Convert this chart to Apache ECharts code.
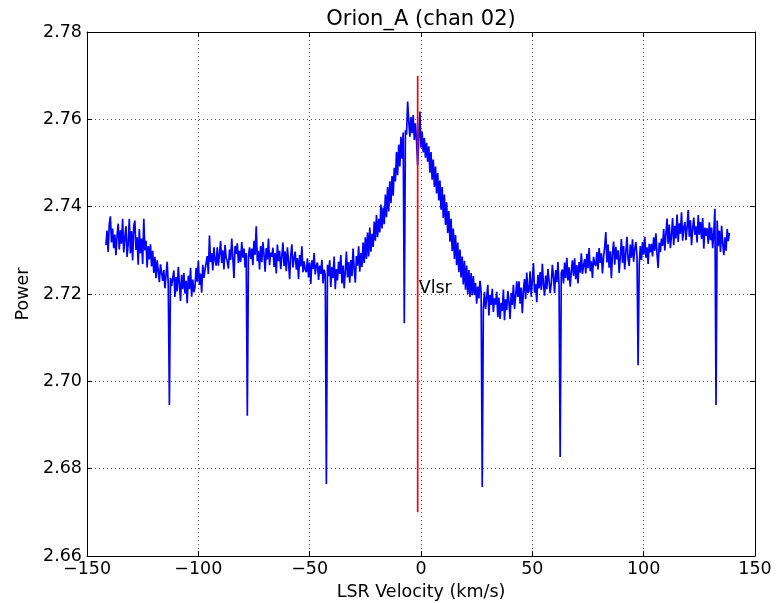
<!DOCTYPE html>
<html><head><meta charset="utf-8">
<script src="https://cdn.jsdelivr.net/npm/echarts@6/dist/echarts.min.js"></script>
<style>html,body{margin:0;padding:0;background:#fff}#c{width:777px;height:603px}</style>
</head><body><div id="c"></div>
<script>
const titleText = 'Orion_A (chan 02)';
const xName = 'LSR Velocity (km/s)';
const yName = 'Power';
const xRange = [-150, 150], xStep = 50;
const yRange = [2.66, 2.78], yStep = 0.02;
// channel velocities: first channel and spacing (km/s)
const vStart = -141.5, vStep = 0.5;
const power = [
2.7312,2.7345,2.7296,2.7359,2.7378,2.7318,2.7350,2.7305,2.7336,2.7289,
2.7333,2.7361,2.7302,2.7346,2.7315,2.7372,2.7295,2.7329,2.7355,2.7285,
2.7315,2.7372,2.7293,2.7344,2.7277,2.7356,2.7368,2.7301,2.7330,2.7267,
2.7349,2.7293,2.7327,2.7269,2.7372,2.7300,2.7322,2.7261,2.7310,2.7279,
2.7314,2.7263,2.7299,2.7248,2.7285,2.7236,2.7277,2.7253,2.7227,2.7268,
2.7267,2.7230,2.7255,2.7213,2.7243,2.7274,2.7221,2.6946,2.7237,2.7218,
2.7215,2.7254,2.7193,2.7239,2.7206,2.7262,2.7225,2.7184,2.7244,2.7211,
2.7248,2.7201,2.7230,2.7179,2.7242,2.7211,2.7260,2.7194,2.7233,2.7204,
2.7216,2.7260,2.7228,2.7276,2.7221,2.7247,2.7203,2.7267,2.7237,2.7255,
2.7258,2.7287,2.7246,2.7334,2.7273,2.7294,2.7254,2.7307,2.7278,2.7265,
2.7307,2.7265,2.7292,2.7321,2.7271,2.7300,2.7256,2.7312,2.7283,2.7275,
2.7258,2.7302,2.7278,2.7327,2.7283,2.7236,2.7310,2.7292,2.7316,2.7271,
2.7299,2.7273,2.7319,2.7283,2.7304,2.7261,2.7294,2.6921,2.7285,2.7307,
2.7280,2.7304,2.7266,2.7322,2.7290,2.7355,2.7275,2.7299,2.7256,2.7310,
2.7273,2.7319,2.7290,2.7251,2.7305,2.7279,2.7327,2.7266,2.7295,2.7285,
2.7306,2.7262,2.7294,2.7247,2.7313,2.7275,2.7299,2.7257,2.7286,2.7318,
2.7264,2.7297,2.7252,2.7307,2.7275,2.7234,2.7288,2.7314,2.7261,2.7283,
2.7297,2.7256,2.7282,2.7234,2.7289,2.7263,2.7309,2.7250,2.7275,2.7255,
2.7250,2.7282,2.7238,2.7272,2.7223,2.7277,2.7257,2.7294,2.7245,2.7265,
2.7272,2.7232,2.7265,2.7246,2.7278,2.7224,2.7256,2.7243,2.6765,2.7267,
2.7241,2.7277,2.7216,2.7262,2.7236,2.7286,2.7211,2.7257,2.7231,2.7274,
2.7246,2.7289,2.7224,2.7265,2.7213,2.7253,2.7297,2.7238,2.7273,2.7226,
2.7278,2.7241,2.7304,2.7256,2.7226,2.7287,2.7265,2.7309,2.7251,2.7294,
2.7262,2.7318,2.7271,2.7330,2.7280,2.7341,2.7286,2.7352,2.7297,2.7338,
2.7308,2.7366,2.7322,2.7381,2.7330,2.7372,2.7341,2.7405,2.7350,2.7398,
2.7360,2.7428,2.7376,2.7445,2.7389,2.7458,2.7408,2.7470,2.7425,2.7489,
2.7458,2.7525,2.7472,2.7542,2.7492,2.7560,2.7510,2.7570,2.7133,2.7575,
2.7565,2.7641,2.7596,2.7560,2.7605,2.7568,2.7610,2.7553,2.7591,2.7550,
2.7495,2.7556,2.7618,2.7535,2.7572,2.7524,2.7557,2.7512,2.7546,2.7503,
2.7538,2.7478,2.7525,2.7462,2.7508,2.7445,2.7492,2.7430,2.7477,2.7414,
2.7460,2.7393,2.7445,2.7374,2.7428,2.7358,2.7410,2.7340,2.7390,2.7320,
2.7372,2.7298,2.7350,2.7280,2.7335,2.7266,2.7318,2.7250,2.7302,2.7238,
2.7286,2.7222,2.7276,2.7210,2.7265,2.7200,2.7255,2.7193,2.7248,2.7197,
2.7241,2.7198,2.7225,2.7178,2.7217,2.7190,2.7230,2.7205,2.6758,2.7168,
2.7205,2.7166,2.7192,2.7221,2.7151,2.7198,2.7175,2.7212,2.7159,2.7190,
2.7176,2.7205,2.7147,2.7192,2.7143,2.7180,2.7161,2.7210,2.7140,2.7188,
2.7163,2.7207,2.7182,2.7143,2.7202,2.7175,2.7221,2.7166,2.7195,2.7229,
2.7193,2.7229,2.7178,2.7215,2.7156,2.7208,2.7234,2.7188,2.7249,2.7202,
2.7208,2.7252,2.7194,2.7232,2.7271,2.7203,2.7223,2.7181,2.7244,2.7213,
2.7250,2.7209,2.7269,2.7221,2.7196,2.7242,2.7211,2.7257,2.7231,2.7202,
2.7224,2.7267,2.7239,2.7202,2.7255,2.7227,2.7273,2.7219,2.6827,2.7248,
2.7256,2.7224,2.7272,2.7236,2.7283,2.7231,2.7261,2.7217,2.7251,2.7277,
2.7242,2.7282,2.7234,2.7266,2.7224,2.7273,2.7249,2.7293,2.7246,2.7265,
2.7280,2.7247,2.7292,2.7259,2.7305,2.7252,2.7275,2.7237,2.7285,2.7269,
2.7264,2.7296,2.7256,2.7305,2.7271,2.7293,2.7247,2.7285,2.7308,2.7342,
2.7272,2.7313,2.7260,2.7298,2.7236,2.7293,2.7320,2.7267,2.7308,2.7279,
2.7300,2.7248,2.7287,2.7326,2.7271,2.7310,2.7256,2.7295,2.7331,2.7280,
2.7264,2.7313,2.7283,2.7325,2.7274,2.7303,2.7319,2.7288,2.7037,2.7266,
2.7310,2.7278,2.7319,2.7290,2.7331,2.7283,2.7307,2.7269,2.7315,2.7295,
2.7315,2.7286,2.7330,2.7299,2.7339,2.7291,2.7259,2.7318,2.7296,2.7327,
2.7310,2.7349,2.7300,2.7337,2.7373,2.7315,2.7359,2.7305,2.7334,2.7374,
2.7312,2.7356,2.7327,2.7382,2.7319,2.7362,2.7338,2.7387,2.7322,2.7351,
2.7365,2.7323,2.7353,2.7392,2.7331,2.7369,2.7312,2.7350,2.7375,2.7336,
2.7355,2.7318,2.7381,2.7336,2.7365,2.7326,2.7374,2.7304,2.7352,2.7333,
2.7351,2.7315,2.7364,2.7323,2.7352,2.7305,2.7340,2.7395,2.6946,2.7368,
2.7310,2.7345,2.7296,2.7356,2.7316,2.7289,2.7330,2.7299,2.7349,2.7321,
2.7340
];
// Vlsr marker
const vlsr = -1.5;
const vlsrSpan = [2.67, 2.77];
const vlsrLabel = 'Vlsr';
const vlsrLabelY = 2.72;

const FONT = 'DejaVu Sans';
const spectrum = power.map((p, i) => [vStart + i * vStep, p]);
const vlsrLine = vlsrSpan.map(y => [vlsr, y]);

const axisLineStyle = {show: true, onZero: false, lineStyle: {color: '#000', width: 1}};
const tickStyle = {show: true, inside: true, length: 5, lineStyle: {color: '#000', width: 1}};
const gridStyle = {show: true, lineStyle: {color: '#555', width: 1, type: [1, 3]}};
const labelStyle = {fontFamily: FONT, fontSize: 17.5, color: '#000'};

const chart = echarts.init(document.getElementById('c'), null, {renderer: 'canvas'});
chart.setOption({
  animation: false,
  backgroundColor: '#fff',
  title: {text: titleText, left: 421, top: 9, textAlign: 'center', padding: 0,
    textStyle: {fontFamily: FONT, fontSize: 21, fontWeight: 'normal', color: '#000'}},
  grid: {left: 87, right: 22, top: 32, bottom: 47, containLabel: false, outerBoundsMode: 'none'},
  xAxis: [{
    type: 'value', min: xRange[0], max: xRange[1], interval: xStep, position: 'bottom',
    name: xName, nameLocation: 'middle', nameGap: 27,
    nameTextStyle: {fontFamily: FONT, fontSize: 17.5, color: '#000'},
    axisLine: axisLineStyle, axisTick: tickStyle, splitLine: gridStyle,
    axisLabel: Object.assign({margin: 4, formatter: v => String(v).replace('-', '\u2212')}, labelStyle)
  }, {
    type: 'value', min: xRange[0], max: xRange[1], interval: xStep, position: 'top',
    axisLine: axisLineStyle, axisTick: tickStyle, splitLine: {show: false}, axisLabel: {show: false}
  }],
  yAxis: [{
    type: 'value', min: yRange[0], max: yRange[1], interval: yStep, position: 'left',
    name: yName, nameLocation: 'middle', nameGap: 47, nameRotate: 90,
    nameTextStyle: {fontFamily: FONT, fontSize: 17.5, color: '#000'},
    axisLine: axisLineStyle, axisTick: tickStyle, splitLine: gridStyle,
    axisLabel: Object.assign({margin: 5, formatter: v => v.toFixed(2)}, labelStyle)
  }, {
    type: 'value', min: yRange[0], max: yRange[1], interval: yStep, position: 'right',
    axisLine: axisLineStyle, axisTick: tickStyle, splitLine: {show: false}, axisLabel: {show: false}
  }],
  series: [{
    type: 'line', data: spectrum, xAxisIndex: 0, yAxisIndex: 0,
    showSymbol: false, symbol: 'none', silent: true,
    lineStyle: {color: '#0000ff', width: 1.7}
  }, {
    type: 'line', data: vlsrLine, xAxisIndex: 0, yAxisIndex: 0,
    showSymbol: false, symbol: 'none', silent: true,
    lineStyle: {color: '#ff0000', width: 1.7}
  }, {
    type: 'scatter', data: [[vlsr, vlsrLabelY]], symbolSize: 0, silent: true,
    itemStyle: {opacity: 1},
    label: {show: true, formatter: vlsrLabel, position: 'right', distance: 1, offset: [0, -6],
      opacity: 1, fontFamily: FONT, fontSize: 17.5, color: '#000'}
  }]
});
</script></body></html>
